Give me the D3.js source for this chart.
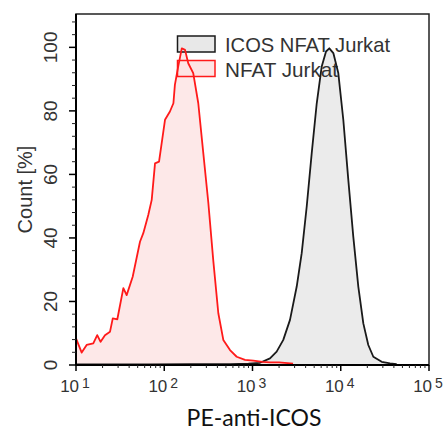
<html>
<head>
<script src="https://cdnjs.cloudflare.com/ajax/libs/d3/7.8.5/d3.min.js"></script>
<style>
  body { margin: 0; background: #fff; }
  text { font-family: "Liberation Sans", Arial, sans-serif; fill: #333; }
</style>
</head>
<body>
<svg width="445" height="432"></svg>
<script>
// NFAT Jurkat (red) - intensity vs count [%]
const nfatX = [10, 11.6, 13.2, 15.7, 17.4, 19.0, 21.3, 24.3, 26.1, 29.4, 34.4, 37.5, 43.9, 53.1, 57.9, 65.9, 72.1, 78.6, 87.3, 102, 116, 127, 132, 144, 158, 172, 187, 213, 243, 277, 316, 359, 410, 467, 556, 662, 822, 1020, 1300, 1580, 2000, 2500, 2880]
const nfatY = [8.4, 3.9, 6.3, 6.8, 9.4, 7.3, 9.4, 10.5, 14.7, 14.4, 24.2, 22.0, 27.8, 38.8, 41.5, 47.2, 52.0, 63.5, 64.0, 77.2, 79.8, 82.4, 88.2, 94.0, 99.7, 99.2, 95.0, 91.9, 82.4, 66.7, 51.0, 33.0, 16.3, 7.9, 4.7, 2.6, 1.6, 1.4, 1.0, 0.8, 0.8, 0.6, 0.4]
// ICOS NFAT Jurkat (black)
const icosX = [10, 40, 69, 200, 556, 900, 1217, 1578, 1878, 2233, 2660, 3170, 3610, 4115, 4690, 5345, 6085, 6810, 7420, 8240, 9380, 10690, 12180, 13870, 15810, 18020, 20520, 23390, 29110, 36140, 43050]
const icosY = [0.2, 0.2, 0.2, 0.3, 0.3, 0.4, 0.7, 2.1, 4.2, 7.9, 14.2, 24.7, 35.2, 49.9, 66.7, 82.4, 94.0, 98.7, 99.7, 98.2, 91.9, 77.2, 58.3, 40.4, 24.7, 13.1, 6.3, 2.6, 1.0, 0.5, 0.3]

const xTicks = [1, 2, 3, 4, 5]   // exponents
const yTicks = [0, 20, 40, 60, 80, 100]
const legendNames = ['ICOS NFAT Jurkat', 'NFAT Jurkat']

const plotLeft = 76, plotRight = 429, plotTop = 14, plotBottom = 365
const svg = d3.select('svg')

const x = d3.scaleLog().domain([10, 1e5]).range([plotLeft, plotRight])
const y = d3.scaleLinear().domain([0, 110.5]).range([plotBottom, plotTop])

const series = [
  { name: legendNames[0], xs: icosX, ys: icosY, stroke: '#1a1a1a', fill: '#e8e8e8' },
  { name: legendNames[1], xs: nfatX, ys: nfatY, stroke: '#ff1a1a', fill: '#fde4e4' }
]

const area = d3.area().x(d => x(d[0])).y0(y(0)).y1(d => y(d[1]))
const line = d3.line().x(d => x(d[0])).y(d => y(d[1]))

// fills
series.forEach(s => {
  const pts = s.xs.map((v, i) => [v, s.ys[i]])
  svg.append('path').attr('d', area(pts)).attr('fill', s.fill).attr('fill-opacity', 0.85)
})

// legend
const lg = svg.append('g')
series.forEach((s, i) => {
  const yy = 36 + i * 24.5
  lg.append('rect').attr('x', 177.5).attr('y', yy).attr('width', 37.5).attr('height', 16)
    .attr('fill', s.fill).attr('stroke', s.stroke).attr('stroke-width', 1.5)
  lg.append('text').attr('x', 225).attr('y', yy + 16).attr('font-size', 21)
    .attr('textLength', i === 0 ? 165 : 113).attr('lengthAdjust', 'spacingAndGlyphs')
    .text(s.name)
})

// lines
series.forEach(s => {
  const pts = s.xs.map((v, i) => [v, s.ys[i]])
  svg.append('path').attr('d', line(pts)).attr('fill', 'none')
    .attr('stroke', s.stroke).attr('stroke-width', 1.8).attr('stroke-linejoin', 'round')
})

// frame
svg.append('rect').attr('x', plotLeft).attr('y', plotTop).attr('width', plotRight - plotLeft).attr('height', plotBottom - plotTop)
  .attr('fill', 'none').attr('stroke', '#222').attr('stroke-width', 1.5)

// x axis
const minorX = []
xTicks.slice(0, -1).forEach(e => { for (let k = 2; k < 10; k++) minorX.push(k * Math.pow(10, e)) })
const xAxis = svg.append('g').attr('transform', `translate(0,${plotBottom})`)
xAxis.append('line').attr('x1', plotLeft).attr('x2', plotRight).attr('stroke', '#000').attr('stroke-width', 2)
xAxis.selectAll('.mx').data(minorX).enter().append('line')
  .attr('x1', d => x(d)).attr('x2', d => x(d)).attr('y1', 0).attr('y2', 3)
  .attr('stroke', '#222').attr('stroke-width', 1)
xAxis.selectAll('.tx').data(xTicks).enter().append('line')
  .attr('x1', d => x(Math.pow(10, d))).attr('x2', d => x(Math.pow(10, d))).attr('y1', 0).attr('y2', 6)
  .attr('stroke', '#000').attr('stroke-width', 1.5)
const xl = xAxis.selectAll('.xl').data(xTicks).enter().append('text')
  .attr('x', d => x(Math.pow(10, d)) - 1).attr('y', 27).attr('text-anchor', 'middle').attr('font-size', 17)
xl.append('tspan').text('10')
xl.append('tspan').attr('dx', 3).attr('dy', -4).attr('font-size', 14).text(d => d)

// y axis
const minorY = d3.range(0, 110, 4).filter(v => v % 20 !== 0)
const yAxis = svg.append('g').attr('transform', `translate(${plotLeft},0)`)
yAxis.append('line').attr('y1', plotTop).attr('y2', plotBottom).attr('stroke', '#000').attr('stroke-width', 2)
yAxis.selectAll('.my').data(minorY).enter().append('line')
  .attr('x1', -4).attr('x2', 0).attr('y1', d => y(d)).attr('y2', d => y(d))
  .attr('stroke', '#222').attr('stroke-width', 1)
yAxis.selectAll('.ty').data(yTicks).enter().append('line')
  .attr('x1', -7).attr('x2', 0).attr('y1', d => y(d)).attr('y2', d => y(d))
  .attr('stroke', '#000').attr('stroke-width', 1.5)
yAxis.selectAll('.yl').data(yTicks).enter().append('text')
  .attr('transform', d => `translate(-19,${y(d)}) rotate(-90)`)
  .attr('text-anchor', 'middle').attr('font-size', 19).text(d => d)

// axis titles
svg.append('text').attr('transform', `translate(32,${(plotTop + plotBottom) / 2}) rotate(-90)`)
  .attr('text-anchor', 'middle').attr('font-size', 20).text('Count [%]')
svg.append('text').attr('x', 254).attr('y', 426).attr('text-anchor', 'middle')
  .attr('font-size', 23).style('font-family', 'Lato, "Open Sans", sans-serif').style('fill', '#111')
  .text('PE-anti-ICOS')
</script>
</body>
</html>
